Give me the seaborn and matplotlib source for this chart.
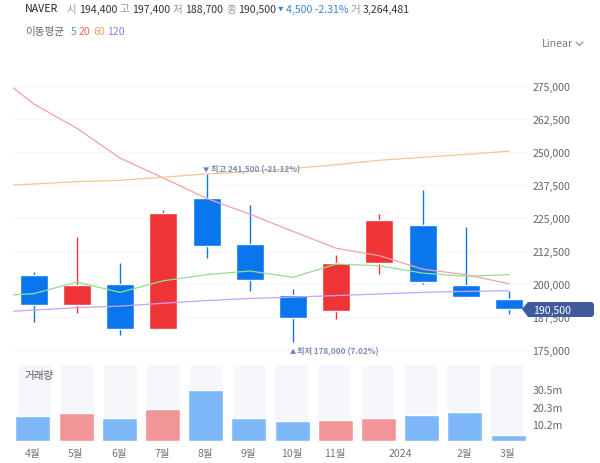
import numpy as np
import matplotlib
matplotlib.use("Agg")
import matplotlib.pyplot as plt
import seaborn as sns
from matplotlib.lines import Line2D
from matplotlib.patches import Polygon

# monthly candles, in won
months = ["4월", "5월", "6월", "7월", "8월", "9월", "10월", "11월", "12월", "1월", "2월", "3월"]
open_price = [203400, 192200, 199800, 182800, 232500, 215000, 195900, 189900, 208000, 222400, 199500, 194300]
close_price = [192200, 199500, 182800, 227000, 214500, 201500, 187200, 207900, 224000, 200600, 195000, 190500]
high_price = [204400, 217700, 207800, 228000, 241500, 229900, 198000, 210900, 226400, 235400, 221400, 197300]
low_price = [185700, 188900, 180500, 182800, 209900, 197400, 178000, 186900, 203900, 200000, 194800, 188500]

# moving averages, first value is the month before the window (clipped)
ma_x = [-1, 0, 1, 2, 3, 4, 5, 6, 7, 8, 9, 10, 11]
ma5 = [195400, 196300, 200700, 196800, 201200, 203500, 204900, 202500, 207500, 206900, 204100, 202900, 203500]
ma20 = [280900, 268100, 258900, 247600, 240100, 232400, 226400, 219900, 213500, 210700, 205600, 203500, 200100]
ma60 = [237000, 237800, 238700, 239200, 240400, 241600, 242500, 243700, 245100, 246800, 247900, 249000, 250200]
ma120 = [189200, 190100, 191000, 191600, 192700, 193700, 194500, 195000, 195600, 196200, 196800, 197200, 197400]

# volume in millions of shares
volume = [14.6, 16.2, 13.2, 18.7, 30.4, 13.6, 11.6, 12.6, 13.2, 15.2, 17.2, 3.26]
volume_max = 45.6

price_ticks = [175000, 187500, 200000, 212500, 225000, 237500, 250000, 262500, 275000]
volume_ticks = [10.2, 20.3, 30.5]
volume_labels = ["10.2m", "20.3m", "30.5m"]
month_ticks = [0, 1, 2, 3, 4, 5, 6, 7, 8.5, 10, 11]
month_labels = ["4월", "5월", "6월", "7월", "8월", "9월", "10월", "11월", "2024", "2월", "3월"]

BLUE = "#0a76ee"
RED = "#ee3436"
VOL_BLUE = "#7fb8f8"
VOL_RED = "#f29599"
GREY = "#666666"
W, H = 600, 464

sns.set_theme(style="white")
plt.rcParams["font.family"] = ["Noto Sans CJK KR", "DejaVu Sans"]
plt.rcParams["font.size"] = 7.6

fig = plt.figure(figsize=(W / 100, H / 100), dpi=100)


def px_axes(left, top, right, bottom):
    return fig.add_axes([left / W, 1 - bottom / H, (right - left) / W, (bottom - top) / H])


def px_text(x, y, s, color=GREY, **kw):
    fig.text(x / W, 1 - y / H, s, color=color, va="center", **kw)


# candle index -> pixel is 33.7 + 43.2 * i
def index_lim(left, right, centre=33.7):
    return (left - centre) / 43.2, (right - centre) / 43.2


# main price panel
ax = px_axes(13, 62, 527, 358)
ax.set_xlim(*index_lim(13, 527))
px_per_won = (351 - 86.7) / 100000
ax.set_ylim(175000 - (358 - 351) / px_per_won, 275000 + (86.7 - 62) / px_per_won)

for i in range(len(months)):
    up = close_price[i] > open_price[i]
    col = RED if up else BLUE
    ax.vlines(i, low_price[i], high_price[i], color=col, lw=1, zorder=2)
    ax.bar(i, abs(close_price[i] - open_price[i]), bottom=min(open_price[i], close_price[i]),
           width=28 / 43.2, color=col, zorder=3)

sns.lineplot(x=ma_x, y=ma5, ax=ax, color="#93de93", lw=0.9, zorder=4)
sns.lineplot(x=ma_x, y=ma20, ax=ax, color="#f2a3a3", lw=0.9, zorder=4)
sns.lineplot(x=ma_x, y=ma60, ax=ax, color="#f6c595", lw=0.9, zorder=4)
sns.lineplot(x=ma_x, y=ma120, ax=ax, color="#c9a3f2", lw=0.9, zorder=4)

ax.set_yticks(price_ticks)
ax.set_yticklabels([f"{v:,}" for v in price_ticks], color=GREY, fontsize=7.6)
ax.yaxis.tick_right()
ax.tick_params(axis="y", length=0, pad=4)
ax.set_xticks([])
ax.grid(axis="y", color="#f6f6f6", lw=0.8)
ax.set_axisbelow(True)
sns.despine(ax=ax, left=True, right=True, top=True, bottom=True)

# high / low notes
px_text(203, 170.5, "▼", color="#6f7fae", fontsize=4.5)
px_text(211, 170, "최고 241,500 (-21.12%)", color="#7c8db8", fontsize=5.9, fontweight="bold")
px_text(290, 352.5, "▲", color="#6f7fae", fontsize=4.5)
px_text(297, 352, "최저 178,000 (7.02%)", color="#7c8db8", fontsize=5.9, fontweight="bold")

# volume panel, the grey columns sit a little to the right of the bars
ax_bg = px_axes(13, 365, 527, 441.7)
ax_bg.set_xlim(*index_lim(13, 527, 34.5))
sns.barplot(x=months, y=[volume_max] * len(months), ax=ax_bg, color="#f5f7fb", saturation=1, width=34.3 / 43.2)
ax_bg.set_ylim(0, volume_max)
ax_bg.axis("off")

ax_vol = px_axes(13, 365, 527, 441.7)
ax_vol.patch.set_alpha(0)
vol_colors = [VOL_RED if close_price[i] > open_price[i] else VOL_BLUE for i in range(len(months))]
sns.barplot(x=months, y=volume, hue=months, palette=vol_colors, legend=False, ax=ax_vol,
            saturation=1, width=35 / 43.2)
ax_vol.set_xlim(*index_lim(13, 527, 32.8))
ax_vol.set_ylim(0, volume_max)
ax_vol.set_yticks(volume_ticks)
ax_vol.set_yticklabels(volume_labels, color=GREY, fontsize=7.6)
ax_vol.yaxis.tick_right()
ax_vol.set_xticks(month_ticks)
ax_vol.set_xticklabels(month_labels, color="#777777", fontsize=7.6)
ax_vol.tick_params(axis="y", length=0, pad=4)
ax_vol.tick_params(axis="x", length=0, pad=5)
ax_vol.set_xlabel("")
ax_vol.set_ylabel("")
sns.despine(ax=ax_vol, left=True, right=True, top=True, bottom=True)
px_text(25, 376, "거래량", color="#555555", fontsize=7.6)

# current price tag
tag = [(522, 310), (528, 303), (592, 303), (594, 305), (594, 316), (592, 318), (528, 318)]
fig.add_artist(Polygon([(x / W, 1 - y / H) for x, y in tag], closed=True, transform=fig.transFigure,
                       facecolor="#3f5b9e", edgecolor="none", zorder=10))
fig.text(533 / W, 1 - 310.5 / H, f"{close_price[-1]:,}", color="white", fontsize=7.6, va="center", zorder=11)

# header lines
px_text(25, 9.5, "NAVER", color="#222222", fontsize=7.6, fontweight="medium")
for x, s in [(67, "시"), (119, "고"), (173, "저"), (226, "종"), (351, "거")]:
    px_text(x, 9.5, s, color="#999999", fontsize=7.6)
for x, s in [(79, "194,400"), (132, "197,400"), (185, "188,700"), (238, "190,500"), (363, "3,264,481")]:
    px_text(x, 9.5, s, color="#333333", fontsize=7.6)
px_text(278, 9.5, "▼", color="#2f7fdc", fontsize=4)
px_text(286, 9.5, "4,500 -2.31%", color="#3d86d8", fontsize=7.6)

px_text(25, 32, "이동평균", color="#666666", fontsize=7.6)
px_text(71, 32, "5", color="#55b955", fontsize=7.6)
px_text(79, 32, "20", color="#e86a6a", fontsize=7.6)
px_text(93, 32, "60", color="#eda36a", fontsize=7.6)
px_text(107, 32, "120", color="#9a78ea", fontsize=7.6)
px_text(542, 44, "Linear", color="#777777", fontsize=7.6)
# dropdown chevron
fig.add_artist(Line2D([576 / W, 579.5 / W, 583 / W], [1 - 43 / H, 1 - 46.5 / H, 1 - 43 / H],
                      color="#888888", lw=0.8))

fig.savefig("out.png", dpi=100)
